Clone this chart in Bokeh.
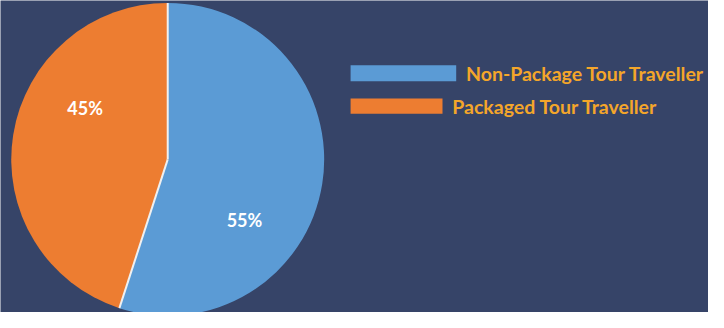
import numpy as np
from bokeh.plotting import figure
from bokeh.models import Range1d, ColumnDataSource
from bokeh.core.properties import value
from bokeh.embed import file_html
from bokeh.resources import INLINE

# ---- data ----
categories = ["Non-Package Tour Traveller", "Packaged Tour Traveller"]
shares = [55, 45]
pct_labels = ["55%", "45%"]
colors = ["#5B9BD5", "#ED7D31"]

# ---- style / layout ----
BG = "#364468"
W, H = 708, 312
VW, VH = 724, 328                 # virtual canvas (reference pixel space)
cx, cy, R = 171, VH - 167, 160    # pie centre/radius
label_angle_deg = [-39, 147.6]    # direction of each percent label from the centre
label_r = [101, 100]

p = figure(width=W, height=H, output_backend="svg", toolbar_location=None,
           x_range=Range1d(0, VW), y_range=Range1d(0, VH),
           min_border=0, background_fill_color=BG, border_fill_color=BG,
           outline_line_color=None)
p.axis.visible = False
p.grid.visible = False

fr = np.array(shares, dtype=float) / sum(shares)
# blue goes clockwise from 12 o'clock, orange fills the rest
ends = [np.pi / 2, np.pi / 2 + 2 * np.pi * fr[1]]
starts = [np.pi / 2 - 2 * np.pi * fr[0], np.pi / 2]
src = ColumnDataSource(dict(x=[cx, cx], y=[cy, cy], start=starts, end=ends, color=colors))
p.wedge(x="x", y="y", radius=R, start_angle="start", end_angle="end",
        fill_color="color", line_color=None, source=src)

# white separators
ky = (W / VW) / (H / VH)   # vertical stretch of the circle in data units
bounds = [np.pi / 2, np.pi / 2 - 2 * np.pi * fr[0]]
p.segment(x0=[cx] * 2, y0=[cy] * 2,
          x1=[cx + R * np.cos(a) for a in bounds],
          y1=[cy + R * ky * np.sin(a) for a in bounds],
          line_color="#F0F0F0", line_width=2)

# percent labels
lx = [cx + r * np.cos(np.radians(a)) for r, a in zip(label_r, label_angle_deg)]
ly = [cy + r * np.sin(np.radians(a)) for r, a in zip(label_r, label_angle_deg)]
p.text(x=lx, y=ly, text=pct_labels, text_color="white", text_font=value("Lato"),
       text_font_style="bold", text_font_size="18px", text_align="center",
       text_baseline="middle")

# legend (manual)
leg_rect_x0 = 358
leg_rect_w = [108, 94]
leg_rect_h = [17, 16]
leg_y = [VH - 76.5, VH - 111]
leg_text_gap = 10
p.rect(x=[leg_rect_x0 + w / 2 for w in leg_rect_w], y=leg_y, width=leg_rect_w,
       height=leg_rect_h, fill_color=colors, line_color=None)
p.text(x=[leg_rect_x0 + w + leg_text_gap for w in leg_rect_w], y=leg_y, text=categories,
       text_color="#F4A62A", text_font=value("Lato"), text_font_style="bold",
       text_font_size="19.5px", text_align="left", text_baseline="middle")

open("out.html", "w").write(file_html(p, INLINE))
